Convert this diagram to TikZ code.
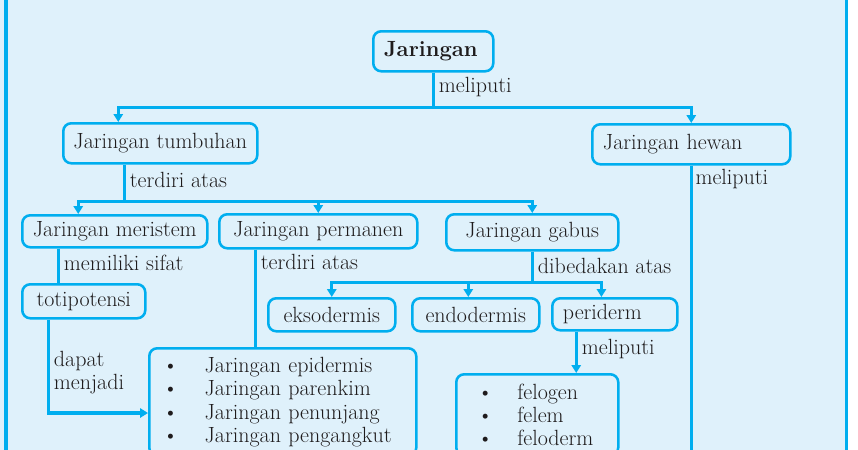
\documentclass[tikz,border=0pt]{standalone}
\usepackage{tikz}
\usetikzlibrary{arrows.meta,calc}
\definecolor{garis}{RGB}{0,174,239}
\definecolor{latar}{RGB}{223,241,251}
\definecolor{tinta}{RGB}{30,27,28}

\begin{document}
\begin{tikzpicture}[x=0.75pt,y=-0.75pt,
	kotak/.style={draw=garis,line width=1.9pt,rounded corners=6pt,anchor=north west,inner xsep=6pt,inner ysep=2pt,text=tinta,font=\fontsize{16.5}{17.6}\selectfont},
	ket/.style={text=tinta,font=\fontsize{16.5}{17.6}\selectfont,inner sep=3pt},
	hubung/.style={draw=garis,line width=2.5pt},
	panah/.style={hubung,-{Triangle[length=6pt,width=7pt]}},
	bingkai/.style={draw=garis,line width=2.6pt}]
		% Latar
		\clip (0,0) rectangle (858,450);
		\fill[latar] (0,0) rectangle (846,450);
		\draw[bingkai] (6,0) -- (6,450);
		\draw[bingkai] (846.5,0) -- (846.5,450);
		% Kotak
		\node[kotak,text width=74pt,align=left,inner xsep=8pt,minimum height=30pt] (jar) at (372,30) {\textbf{Jaringan}};
		\node[kotak,minimum width=145.5pt,minimum height=30pt] (tumbuhan) at (62,122) {Jaringan tumbuhan};
		\node[kotak,text width=132.5pt,align=left,inner xsep=8pt,minimum height=30pt] (hewan) at (591,123) {Jaringan hewan};
		\node[kotak,minimum width=138.75pt,minimum height=24pt] (meristem) at (21,214) {Jaringan meristem};
		\node[kotak,minimum width=148.5pt,minimum height=25.5pt] (permanen) at (218,213) {Jaringan permanen};
		\node[kotak,minimum width=129pt,minimum height=27pt] (gabus) at (445,213) {Jaringan gabus};
		\node[kotak,minimum width=92.25pt,minimum height=25.5pt] (totipotensi) at (21,283) {totipotensi};
		\node[kotak,minimum width=95.25pt,minimum height=24.75pt] (eksodermis) at (267,297) {eksodermis};
		\node[kotak,minimum width=95.25pt,minimum height=24.75pt] (endodermis) at (411,297) {endodermis};
		\node[kotak,text width=77.75pt,align=left,inner xsep=8pt,minimum height=24pt] (periderm) at (551,297) {periderm};
		\node[kotak,text width=180.25pt,align=left,inner xsep=10pt,inner ysep=6.5pt] (daftarA) at (148,347) {%
			\makebox[31.5pt][l]{\textbullet}Jaringan epidermis\\
			\makebox[31.5pt][l]{\textbullet}Jaringan parenkim\\
			\makebox[31.5pt][l]{\textbullet}Jaringan penunjang\\
			\makebox[31.5pt][l]{\textbullet}Jaringan pengangkut};
		\node[kotak,text width=90pt,align=left,inner xsep=15.75pt,inner ysep=7pt] (daftarB) at (455,373) {%
			\makebox[30pt][l]{\textbullet}felogen\\
			\makebox[30pt][l]{\textbullet}felem\\
			\makebox[30pt][l]{\textbullet}feloderm};
		% Garis
		\coordinate (c1) at ($(jar.south)+(0,35)$);
		\draw[hubung] (jar.south) -- node[ket,pos=0.42,right] (k1) {meliputi} (c1);
		\draw[panah] (c1) -| ([xshift=-31.5pt]tumbuhan.north);
		\draw[panah] (c1) -| (hewan.north);
		\coordinate (t1) at ([xshift=-27pt]tumbuhan.south);
		\coordinate (c2) at ($(t1)+(0,37)$);
		\draw[hubung] (t1) -- node[ket,pos=0.42,right] (k2) {terdiri atas} (c2);
		\draw[panah] (c2) -| ([xshift=-27.4pt]meristem.north);
		\draw[panah] (c2) -| (permanen.north);
		\draw[panah] (c2) -| (gabus.north);
		\coordinate (m1) at ([xshift=-42.4pt]meristem.south);
		\draw[hubung] (m1) -- node[ket,pos=0.42,right] (k3) {memiliki sifat} (m1 |- totipotensi.north);
		\coordinate (s1) at ([xshift=-26.6pt]totipotensi.south);
		\coordinate (s2) at ([yshift=-49.5pt]daftarA.north west);
		\draw[panah] (s1) |- node[ket,pos=0.285,right,align=left] (k4) {dapat\\menjadi} (s2);
		\coordinate (p1) at ([xshift=-47.25pt]permanen.south);
		\draw[hubung] (p1) -- node[ket,pos=0.13,right] (k5) {terdiri atas} (p1 |- daftarA.north);
		\coordinate (c3) at ($(gabus.south)+(0,31)$);
		\draw[hubung] (gabus.south) -- node[ket,pos=0.45,right] (k6) {dibedakan atas} (c3);
		\draw[panah] (c3) -| (eksodermis.north);
		\draw[panah] (c3) -| ([xshift=-5.6pt]endodermis.north);
		\draw[panah] (c3) -| ([xshift=-10pt]periderm.north);
		\coordinate (p2) at ([xshift=-28.9pt]periderm.south);
		\draw[panah] (p2) -- node[ket,pos=0.42,right] (k7) {meliputi} (p2 |- daftarB.north);
		\coordinate (h1) at ($(hewan.south)+(0,320)$);
		\draw[hubung] (hewan.south) -- (h1);
		\node[ket,anchor=west] (k8) at ($(hewan.south)+(0,13)$) {meliputi};
	\end{tikzpicture}
\end{document}
